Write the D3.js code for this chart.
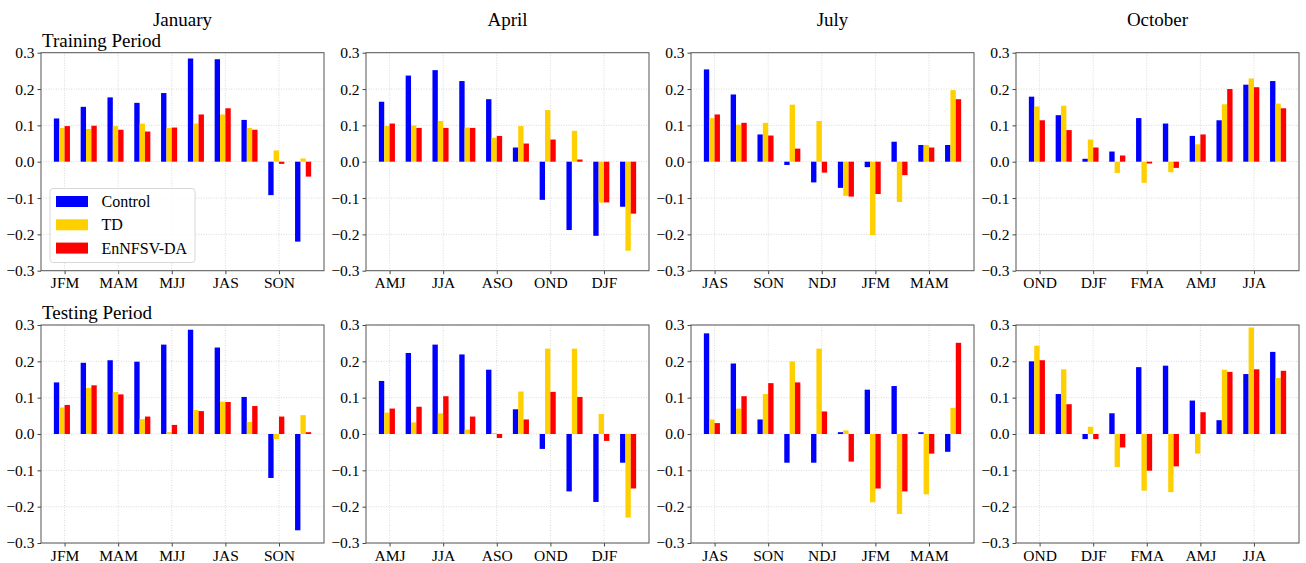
<!DOCTYPE html>
<html>
<head>
<meta charset="utf-8">
<script src="https://cdn.jsdelivr.net/npm/d3@7"></script>
<style>
  body { margin: 0; background: #fff; }
  svg text { font-family: "Liberation Serif", "Times New Roman", serif !important; fill: #000; }
</style>
</head>
<body>
<div id="chart"></div>
<script>
// months of initialisation (columns) and periods (rows)
const months = ['January', 'April', 'July', 'October']
const periods = ['Training Period', 'Testing Period']
const seriesNames = ['Control', 'TD', 'EnNFSV-DA']
const seriesColors = ['#0000ff', '#ffd000', '#ff0000']

// lead seasons for each start month
const seasons = [
    ['JFM', 'FMA', 'MAM', 'AMJ', 'MJJ', 'JJA', 'JAS', 'ASO', 'SON', 'OND'],
    ['AMJ', 'MJJ', 'JJA', 'JAS', 'ASO', 'SON', 'OND', 'NDJ', 'DJF', 'JFM'],
    ['JAS', 'ASO', 'SON', 'OND', 'NDJ', 'DJF', 'JFM', 'FMA', 'MAM', 'AMJ'],
    ['OND', 'NDJ', 'DJF', 'JFM', 'FMA', 'MAM', 'AMJ', 'MJJ', 'JJA', 'JAS']
]

const yTicks = [-0.3, -0.2, -0.1, 0.0, 0.1, 0.2, 0.3]

// training period, one row per start month
const trainControl = [
    [0.119, 0.151, 0.177, 0.162, 0.189, 0.284, 0.282, 0.115, -0.092, -0.220],
    [0.165, 0.237, 0.252, 0.222, 0.172, 0.039, -0.105, -0.188, -0.204, -0.124],
    [0.254, 0.185, 0.075, -0.009, -0.057, -0.072, -0.015, 0.055, 0.046, 0.046],
    [0.179, 0.128, 0.008, 0.028, 0.120, 0.105, 0.071, 0.114, 0.212, 0.222]
]
const trainTD = [
    [0.093, 0.090, 0.098, 0.105, 0.093, 0.105, 0.130, 0.093, 0.031, 0.009],
    [0.098, 0.100, 0.112, 0.094, 0.066, 0.098, 0.142, 0.085, -0.113, -0.245],
    [0.120, 0.102, 0.107, 0.157, 0.112, -0.094, -0.202, -0.111, 0.046, 0.197],
    [0.152, 0.154, 0.061, -0.031, -0.058, -0.029, 0.048, 0.158, 0.229, 0.160]
]
const trainDA = [
    [0.098, 0.099, 0.088, 0.083, 0.094, 0.130, 0.147, 0.088, -0.006, -0.041],
    [0.105, 0.093, 0.093, 0.093, 0.071, 0.050, 0.061, 0.006, -0.112, -0.143],
    [0.130, 0.107, 0.072, 0.036, -0.030, -0.096, -0.089, -0.037, 0.039, 0.172],
    [0.114, 0.087, 0.039, 0.017, -0.005, -0.017, 0.075, 0.200, 0.205, 0.147]
]

// testing period
const testControl = [
    [0.142, 0.196, 0.203, 0.199, 0.246, 0.287, 0.238, 0.102, -0.121, -0.265],
    [0.146, 0.223, 0.246, 0.219, 0.177, 0.068, -0.041, -0.158, -0.187, -0.079],
    [0.277, 0.194, 0.040, -0.079, -0.079, 0.005, 0.122, 0.132, 0.005, -0.049],
    [0.200, 0.110, -0.014, 0.057, 0.184, 0.188, 0.092, 0.038, 0.165, 0.226]
]
const testTD = [
    [0.073, 0.127, 0.116, 0.041, 0.005, 0.066, 0.089, 0.033, -0.014, 0.052],
    [0.059, 0.032, 0.057, 0.012, 0.003, 0.117, 0.235, 0.235, 0.055, -0.230],
    [0.040, 0.070, 0.110, 0.200, 0.235, 0.010, -0.188, -0.220, -0.166, 0.072],
    [0.243, 0.178, 0.020, -0.091, -0.156, -0.160, -0.054, 0.177, 0.293, 0.154]
]
const testDA = [
    [0.080, 0.134, 0.109, 0.048, 0.025, 0.063, 0.088, 0.077, 0.048, 0.005],
    [0.070, 0.075, 0.104, 0.048, -0.011, 0.040, 0.116, 0.102, -0.019, -0.150],
    [0.030, 0.104, 0.140, 0.142, 0.062, -0.076, -0.150, -0.158, -0.054, 0.251],
    [0.203, 0.082, -0.014, -0.037, -0.101, -0.089, 0.060, 0.171, 0.178, 0.174]
]

const allData = [
    [trainControl, trainTD, trainDA],
    [testControl, testTD, testDA]
]

///////////////////////
// LAYOUT
///////////////////////

let width = 1306,
    height = 563,
    panelW = 283,
    panelLefts = [41, 366, 691, 1016],
    panelTops = [52.7, 325],
    panelH = 218,
    barW = 0.2,
    serif = '"Liberation Serif", "Times New Roman", serif'

let svg = d3.select('#chart').append('svg')
    .attr('width', width)
    .attr('height', height)
    .attr('font-family', serif)

months.forEach((m, c) => {
    svg.append('text')
        .text(m)
        .attr('x', panelLefts[c] + panelW / 2)
        .attr('y', 26)
        .attr('text-anchor', 'middle')
        .style('font-size', '19px')
})

periods.forEach((p, r) => {
    svg.append('text')
        .text(p)
        .attr('x', 42)
        .attr('y', panelTops[r] - 6)
        .style('font-size', '19px')
})

allData.forEach((rowData, r) => {
    months.forEach((m, c) => {
        let left = panelLefts[c], top = panelTops[r]
        let x = d3.scaleLinear().domain([-0.88, 9.68]).range([left, left + panelW])
        let y = d3.scaleLinear().domain([-0.3, 0.3]).range([top + panelH, top])
        let g = svg.append('g')

        // GRID
        let labelIdx = seasons[c].map((s, i) => i).filter(i => i % 2 === 0)
        g.selectAll('.gx').data(labelIdx).enter().append('line')
            .attr('x1', d => x(d)).attr('x2', d => x(d))
            .attr('y1', top).attr('y2', top + panelH)
            .attr('stroke', '#d0d0d0').attr('stroke-width', 0.8)
            .attr('stroke-dasharray', '1,1.5')
        g.selectAll('.gy').data(yTicks).enter().append('line')
            .attr('x1', left).attr('x2', left + panelW)
            .attr('y1', d => y(d)).attr('y2', d => y(d))
            .attr('stroke', '#d0d0d0').attr('stroke-width', 0.8)
            .attr('stroke-dasharray', '1,1.5')

        // BARS
        rowData.forEach((series, k) => {
            let vals = series[c]
            g.selectAll('.bar' + k).data(vals).enter().append('rect')
                .attr('x', (d, i) => x(i - 0.4 + k * barW))
                .attr('width', x(barW) - x(0))
                .attr('y', d => y(Math.max(0, d)))
                .attr('height', d => Math.abs(y(d) - y(0)))
                .attr('fill', seriesColors[k])
        })

        // AXES
        let xAxis = d3.axisBottom(x)
            .tickValues(labelIdx)
            .tickFormat(i => seasons[c][i])
            .tickSize(3.5).tickPadding(3)
        let ax = g.append('g')
            .attr('transform', `translate(0, ${top + panelH})`)
            .call(xAxis)
            .attr('font-family', serif)
        ax.select('.domain').remove()
        ax.selectAll('text').style('font-size', '15.5px').style('font-family', serif).attr('fill', '#000')
        ax.selectAll('line').attr('stroke', '#444')

        let yAxis = d3.axisLeft(y)
            .tickValues(yTicks)
            .tickFormat(d => d3.format('.1f')(d).replace('-', '\u2212'))
            .tickSize(3.5).tickPadding(3)
        let ay = g.append('g')
            .attr('transform', `translate(${left}, 0)`)
            .call(yAxis)
            .attr('font-family', serif)
        ay.select('.domain').remove()
        ay.selectAll('text').style('font-size', '15.5px').style('font-family', serif).attr('fill', '#000')
        ay.selectAll('line').attr('stroke', '#444')

        // FRAME
        g.append('rect')
            .attr('x', left).attr('y', top)
            .attr('width', panelW).attr('height', panelH)
            .attr('fill', 'none')
            .attr('stroke', '#555').attr('stroke-width', 1)
    })
})

///////////////////////
// LEGEND
///////////////////////

let legend = svg.append('g')
legend.append('rect')
    .attr('x', 50).attr('y', 188.5)
    .attr('width', 145).attr('height', 74)
    .attr('rx', 3)
    .attr('fill', '#fff').attr('fill-opacity', 0.8)
    .attr('stroke', '#d8d8d8')
seriesNames.forEach((s, k) => {
    let cy = 201.5 + k * 23.3
    legend.append('rect')
        .attr('x', 56).attr('y', cy - 5.5)
        .attr('width', 32).attr('height', 11)
        .attr('fill', seriesColors[k])
    legend.append('text')
        .text(s)
        .attr('x', 101.5).attr('y', cy + 5.5)
        .style('font-size', '16px')
        .style('font-family', serif)
})
</script>
</body>
</html>
